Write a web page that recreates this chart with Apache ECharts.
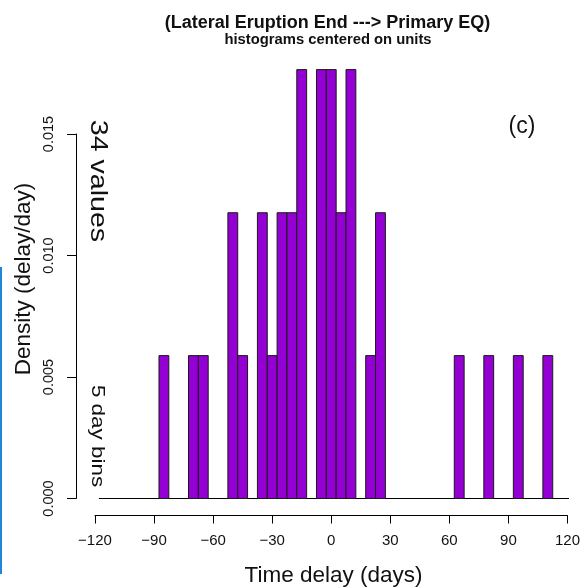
<!DOCTYPE html>
<html>
<head>
<meta charset="utf-8">
<script src="https://cdn.jsdelivr.net/npm/echarts@6/dist/echarts.min.js"></script>
<style>
html,body{margin:0;padding:0;background:#fff;}
#chart{width:583px;height:587px;}
</style>
</head>
<body>
<div id="chart"></div>
<script>
// ---- data ----
const binCenters = [-85, -70, -65, -50, -45, -35, -30, -25, -20, -15, -5, 0, 5, 10, 20, 25, 65, 80, 95, 110];
const densities  = [0.00588, 0.00588, 0.00588, 0.01176, 0.00588, 0.01176, 0.00588, 0.01176, 0.01176, 0.01765,
                    0.01765, 0.01765, 0.01176, 0.01765, 0.00588, 0.01176, 0.00588, 0.00588, 0.00588, 0.00588];
const binWidth = 5;
const xTicks = [-120, -90, -60, -30, 0, 30, 60, 90, 120];
const yTicks = [0.000, 0.005, 0.010, 0.015];
const baselineRange = [-118, 122.5];
const titleText = '(Lateral Eruption End ---> Primary EQ)';
const subtitleText = 'histograms centered on units';
const xTitle = 'Time delay (days)';
const yTitle = 'Density (delay/day)';
const nValuesText = '34 values';
const binsText = '5 day bins';
const panelText = '(c)';

const FONT = '"Liberation Sans", Arial, Helvetica, sans-serif';
const chart = echarts.init(document.getElementById('chart'), null, {renderer: 'canvas'});

const histData = binCenters.map((c, i) => [c, densities[i]]);
const minus = v => (v < 0 ? '\u2212' + Math.abs(v) : String(v));

chart.setOption({
  backgroundColor: '#ffffff',
  animation: false,
  grid: {left: 95, right: 11, top: 134, height: 364.5},
  xAxis: {
    type: 'value', min: xTicks[0], max: xTicks[xTicks.length - 1], interval: 30,
    offset: 17,
    axisLine: {show: true, onZero: false, lineStyle: {color: '#000', width: 1}},
    axisTick: {show: true, length: 8, lineStyle: {color: '#000'}},
    splitLine: {show: false},
    axisLabel: {color: '#111', fontSize: 15, fontFamily: FONT, margin: 18, formatter: minus}
  },
  yAxis: {
    type: 'value', min: yTicks[0], max: yTicks[yTicks.length - 1], interval: 0.005,
    offset: 19,
    axisLine: {show: true, onZero: false, lineStyle: {color: '#000', width: 1}},
    axisTick: {show: true, length: 9, lineStyle: {color: '#000'}},
    splitLine: {show: false},
    axisLabel: {color: '#111', fontSize: 14.5, fontFamily: FONT, rotate: 90, margin: 20,
                formatter: v => v.toFixed(3)}
  },
  series: [
    {
      type: 'line', data: baselineRange.map(x => [x, 0]), symbol: 'none', clip: false,
      lineStyle: {color: '#000', width: 1}, silent: true, z: 1
    },
    {
      type: 'custom', data: histData, clip: false, z: 2,
      renderItem: function (params, api) {
        const c = api.value(0), d = api.value(1);
        const p0 = api.coord([c - binWidth / 2, 0]);
        const p1 = api.coord([c + binWidth / 2, d]);
        return {
          type: 'rect',
          shape: {x: p0[0], y: p1[1], width: p1[0] - p0[0], height: p0[1] - p1[1]},
          style: {fill: '#9400D3', stroke: '#1a1a1a', lineWidth: 1}
        };
      }
    }
  ],
  graphic: [
    {type: 'rect', left: 0, top: 267, shape: {width: 2, height: 307}, style: {fill: '#1f86dc'}},
    {type: 'text', x: 327.5, y: 23, style: {text: titleText, font: 'bold 18px ' + FONT, fill: '#111',
      textAlign: 'center', textVerticalAlign: 'middle'}},
    {type: 'text', x: 328, y: 40, style: {text: subtitleText, font: 'bold 14.8px ' + FONT, fill: '#111',
      textAlign: 'center', textVerticalAlign: 'middle'}},
    {type: 'text', x: 333.5, y: 576, style: {text: xTitle, font: '22.5px ' + FONT, fill: '#111',
      textAlign: 'center', textVerticalAlign: 'middle'}},
    {type: 'text', x: 24, y: 279, rotation: Math.PI / 2, style: {text: yTitle, font: '22.5px ' + FONT, fill: '#111',
      textAlign: 'center', textVerticalAlign: 'middle'}},
    {type: 'text', x: 98, y: 181, rotation: -Math.PI / 2, scaleX: 1.19, style: {text: nValuesText, font: '24px ' + FONT, fill: '#111',
      textAlign: 'center', textVerticalAlign: 'middle'}},
    {type: 'text', x: 97.7, y: 436, rotation: -Math.PI / 2, scaleX: 1.18, style: {text: binsText, font: '19px ' + FONT, fill: '#111',
      textAlign: 'center', textVerticalAlign: 'middle'}},
    {type: 'text', x: 522, y: 127, style: {text: panelText, font: '23px ' + FONT, fill: '#111',
      textAlign: 'center', textVerticalAlign: 'middle'}}
  ]
});
</script>
</body>
</html>
